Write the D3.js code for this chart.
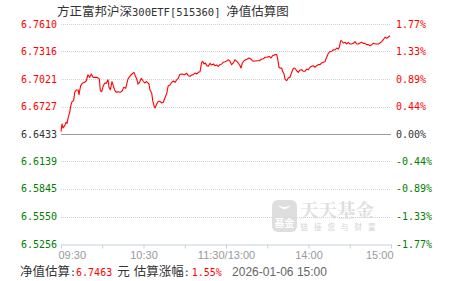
<!DOCTYPE html>
<html>
<head>
<meta charset="utf-8">
<script src="https://cdn.jsdelivr.net/npm/d3@7"></script>
<style>
  body { margin: 0; background: #fff; }
  svg { display: block; }
</style>
</head>
<body>
<div id="chart"></div>
<script>
var svgWidth = 451;
var svgHeight = 281;

// previous close (base) and estimated NAV points: [minutes since 09:30 (trading time), nav]
var baseNav = 6.6433;
var navTicks = ["6.7610", "6.7316", "6.7021", "6.6727", "6.6433", "6.6139", "6.5845", "6.5550", "6.5256"];
var pctTicks = ["1.77%", "1.33%", "0.89%", "0.44%", "0.00%", "-0.44%", "-0.89%", "-1.33%", "-1.77%"];
var timeTicks = [0, 30, 60, 90, 120, 150, 180, 210, 240];
var timeLabels = {0: "09:30", 60: "10:30", 120: "11:30/13:00", 180: "14:00", 240: "15:00"};

var navPoints = [
  [0,6.6458],[0.7,6.6540],[1.5,6.6497],[2.7,6.6522],[3.6,6.6558],[4.4,6.6547],[5.1,6.6601],[6.3,6.6665],
  [7.1,6.6736],[8,6.6779],[9.2,6.6790],[10,6.6879],[11.1,6.6904],[12.4,6.6904],[13.1,6.6854],[13.8,6.6914],
  [14.3,6.6950],[15.5,6.6975],[17.2,6.6986],[18.4,6.7003],[19.6,6.7067],[20.9,6.7039],[22,6.7075],[23.3,6.7039],
  [24.9,6.7039],[26.4,6.7039],[27.9,6.7022],[28.6,6.6896],[29.6,6.6886],[30.8,6.6950],[31.8,6.6979],[32.9,6.6975],
  [34.2,6.7014],[34.9,6.6933],[35.9,6.6907],[37.1,6.6993],[38,6.6950],[39,6.6904],[40.2,6.6879],[41.5,6.6886],
  [43.1,6.6879],[44.6,6.6896],[45.6,6.6932],[47.1,6.6922],[48,6.6979],[48.7,6.7021],[50,6.7050],[51.6,6.7075],
  [53.1,6.7093],[54,6.7057],[55.1,6.7021],[56,6.6968],[57.2,6.6986],[58.4,6.7029],[59.6,6.7003],[60.9,6.6979],
  [62,6.6993],[62.8,6.6986],[64,6.6968],[64.7,6.6904],[66,6.6868],[66.7,6.6790],[67.6,6.6736],[68.4,6.6711],
  [69.6,6.6754],[70.8,6.6783],[72,6.6783],[73.2,6.6765],[74.4,6.6772],[75.6,6.6818],[76.9,6.6868],[78,6.6950],
  [79.3,6.6957],[80.5,6.6986],[81.7,6.7000],[82.9,6.6986],[84.1,6.7011],[85.3,6.7029],[86.5,6.7072],[88.2,6.7075],
  [89.7,6.7068],[91.4,6.7082],[92.6,6.7057],[93.8,6.7050],[95,6.7064],[96.2,6.7068],[97.5,6.7086],[98.7,6.7075],
  [99.9,6.7093],[101.1,6.7100],[102.3,6.7200],[103.1,6.7211],[104,6.7182],[105,6.7193],[106,6.7164],[107.1,6.7157],
  [108.4,6.7189],[109.6,6.7171],[110.8,6.7182],[112,6.7164],[113.2,6.7171],[114.4,6.7157],[115.6,6.7175],[116.9,6.7182],
  [118,6.7200],[119.3,6.7207],[120.5,6.7215],[121.7,6.7228],[122.9,6.7211],[124.1,6.7175],[125.3,6.7193],[126.5,6.7228],
  [127.8,6.7211],[128.9,6.7193],[130.2,6.7164],[130.9,6.7139],[131.9,6.7193],[133.1,6.7217],[134.3,6.7228],[135.5,6.7236],
  [136.7,6.7246],[138,6.7236],[139.1,6.7217],[140.4,6.7211],[142.3,6.7217],[144.2,6.7217],[146,6.7236],[147.1,6.7236],
  [148.4,6.7254],[150,6.7254],[151.5,6.7264],[152.7,6.7246],[153.9,6.7271],[155.6,6.7282],[156.9,6.7282],[157.6,6.7236],
  [158.5,6.7147],[159.5,6.7136],[160.5,6.7139],[161.2,6.7104],[162.2,6.7075],[162.9,6.7021],[164.1,6.7003],[165.3,6.7032],
  [166.5,6.7040],[167.8,6.7093],[169,6.7136],[170.2,6.7136],[171.4,6.7110],[172.6,6.7093],[173.8,6.7118],[175.1,6.7121],
  [176.2,6.7104],[177.5,6.7105],[178.7,6.7129],[179.9,6.7121],[181.1,6.7147],[182.3,6.7157],[183.5,6.7164],[184.7,6.7147],
  [186,6.7164],[187.1,6.7175],[188.4,6.7175],[189.6,6.7193],[190.8,6.7200],[192,6.7207],[192.7,6.7236],[193.7,6.7271],
  [194.4,6.7296],[195.6,6.7314],[196.9,6.7318],[198,6.7335],[199.3,6.7332],[200.5,6.7353],[201.7,6.7343],[202.4,6.7361],
  [203.4,6.7431],[204.1,6.7431],[205.3,6.7407],[206.5,6.7414],[207.8,6.7396],[208.9,6.7414],[210.2,6.7396],[211.4,6.7396],
  [212.6,6.7403],[213.8,6.7421],[215.1,6.7396],[216.2,6.7396],[217.5,6.7407],[218.7,6.7414],[219.9,6.7403],[221.1,6.7403],
  [222.3,6.7389],[223.5,6.7389],[224.7,6.7378],[226,6.7389],[227.1,6.7403],[228.4,6.7396],[229.6,6.7396],[230.8,6.7396],
  [232,6.7407],[233.2,6.7421],[234.4,6.7442],[235.6,6.7468],[236.9,6.7457],[238,6.7468],[239.3,6.7485]
];

var titleParts = ["方正富邦沪深", "300ETF[515360]", " 净值估算图"];
var estNav = "6.7463";
var estPct = "1.55%";
var estTime = "2026-01-06 15:00";

var margin = { top: 24, right: 60, bottom: 37, left: 61 };
var width = svgWidth - margin.left - margin.right;
var height = svgHeight - margin.top - margin.bottom;

var monoFont = "'DejaVu Sans Mono', 'Liberation Mono', monospace";
var cjkFont = "'Noto Sans CJK SC', sans-serif";
var red = "#ff0000", green = "#008000", dark = "#333";

var svg = d3.select("#chart")
  .append("svg")
  .attr("width", svgWidth)
  .attr("height", svgHeight);

var chartGroup = svg.append("g")
  .attr("transform", `translate(${margin.left}, ${margin.top})`);

var xScale = d3.scaleLinear().domain([0, 240]).range([0, width]);
var yScale = d3.scaleLinear()
  .domain([+navTicks[navTicks.length - 1], +navTicks[0]])
  .range([height, 0]);

// watermark
var wm = chartGroup.append("g").attr("transform", "translate(211, 176)").attr("fill", "#dedede");
wm.append("rect").attr("x", 0).attr("y", 0).attr("width", 25).attr("height", 32).attr("rx", 6);
wm.append("path").attr("d", "M6,5 Q12.5,13 19,5 Q12.5,9 6,5Z").attr("fill", "#fff");
wm.append("text").attr("x", 12.5).attr("y", 27).attr("text-anchor", "middle")
  .attr("font-family", cjkFont).attr("font-size", 10).attr("font-weight", "bold").attr("fill", "#fff").text("基金");
wm.append("text").attr("x", 28).attr("y", 16.5).attr("font-family", "'Noto Serif CJK SC', " + cjkFont)
  .attr("font-size", 18.5).attr("font-weight", "bold").text("天天基金");
wm.append("text").attr("x", 28.5).attr("y", 29.5).attr("font-family", cjkFont)
  .attr("font-size", 7.5).attr("letter-spacing", 6).attr("fill", "#d4d4d4").text("链接您与财富");

// grid lines
chartGroup.selectAll(".grid")
  .data(navTicks.slice(0, navTicks.length - 1))
  .enter()
  .append("line")
  .attr("x1", 0)
  .attr("x2", width)
  .attr("y1", d => Math.round(yScale(+d)) + 0.5)
  .attr("y2", d => Math.round(yScale(+d)) + 0.5)
  .attr("stroke", d => +d === baseNav ? "#999" : "#d4d4d4")
  .attr("stroke-dasharray", d => +d === baseNav ? null : "1,1");

// bottom axis
var bottomAxis = d3.axisBottom(xScale)
  .tickValues(timeTicks)
  .tickSizeInner(4)
  .tickSizeOuter(0)
  .tickPadding(3)
  .tickFormat(d => timeLabels[d] || "");

var xAxis = chartGroup.append("g")
  .attr("transform", `translate(0, ${Math.round(height) + 0.5})`)
  .call(bottomAxis);

xAxis.select(".domain").attr("stroke", "#c3d2df");
xAxis.selectAll(".tick line").attr("stroke", "#c3d2df");
xAxis.selectAll(".tick text")
  .attr("fill", "#999")
  .attr("font-family", "'Liberation Sans', Arial, sans-serif")
  .attr("font-size", 11)
  .attr("text-anchor", d => d === 0 ? "start" : (d === 240 ? "end" : "middle"))
  .attr("dx", d => d === 0 ? -3 : (d === 240 ? 2 : 0));

function tickColor(v) {
  if (v > baseNav + 1e-6) return red;
  if (v < baseNav - 1e-6) return green;
  return dark;
}

// left labels
chartGroup.selectAll(".navLabel")
  .data(navTicks)
  .enter()
  .append("text")
  .attr("x", -4)
  .attr("y", d => yScale(+d))
  .attr("dy", "0.35em")
  .attr("text-anchor", "end")
  .attr("font-family", monoFont)
  .attr("font-size", 10)
  .attr("fill", d => tickColor(+d))
  .text(d => d);

// right labels
chartGroup.selectAll(".pctLabel")
  .data(pctTicks)
  .enter()
  .append("text")
  .attr("x", width + 5)
  .attr("y", (d, i) => yScale(+navTicks[i]))
  .attr("dy", "0.35em")
  .attr("font-family", monoFont)
  .attr("font-size", 10)
  .attr("fill", (d, i) => tickColor(+navTicks[i]))
  .text(d => d);

// NAV line
var line = d3.line()
  .x(d => xScale(d[0]))
  .y(d => yScale(d[1]));

chartGroup.append("path")
  .datum(navPoints)
  .attr("d", line)
  .attr("fill", "none")
  .attr("stroke", red)
  .attr("stroke-width", 1.1)
  .attr("stroke-linejoin", "round");

// title
var titleText = svg.append("text")
  .attr("x", 57)
  .attr("y", 16)
  .attr("font-family", cjkFont)
  .attr("font-size", 12.5)
  .attr("fill", dark);
titleText.append("tspan").text(titleParts[0]);
titleText.append("tspan").attr("font-family", monoFont).attr("font-size", 10.5).text(titleParts[1]);
titleText.append("tspan").attr("dx", 3).text(titleParts[2]);

// footer
var footer = svg.append("text")
  .attr("x", 20)
  .attr("y", 276)
  .attr("font-size", 12.5)
  .attr("font-family", cjkFont)
  .attr("fill", dark);

footer.append("tspan").text("净值估算");
footer.append("tspan").attr("font-family", monoFont).attr("font-size", 10).text(":");
footer.append("tspan").attr("font-family", monoFont).attr("font-size", 10).attr("fill", red).text(estNav);
footer.append("tspan").attr("dx", 5).text("元");
footer.append("tspan").attr("dx", 4).text("估算涨幅");
footer.append("tspan").attr("font-family", monoFont).attr("font-size", 10).text(":");
footer.append("tspan").attr("font-family", monoFont).attr("font-size", 10).attr("fill", red).attr("dx", 2).text(estPct);

svg.append("text")
  .attr("x", 232)
  .attr("y", 276)
  .attr("font-family", "'Liberation Sans', Arial, sans-serif")
  .attr("font-size", 12)
  .attr("fill", "#666")
  .attr("textLength", 95)
  .attr("lengthAdjust", "spacing")
  .text(estTime);
</script>
</body>
</html>
